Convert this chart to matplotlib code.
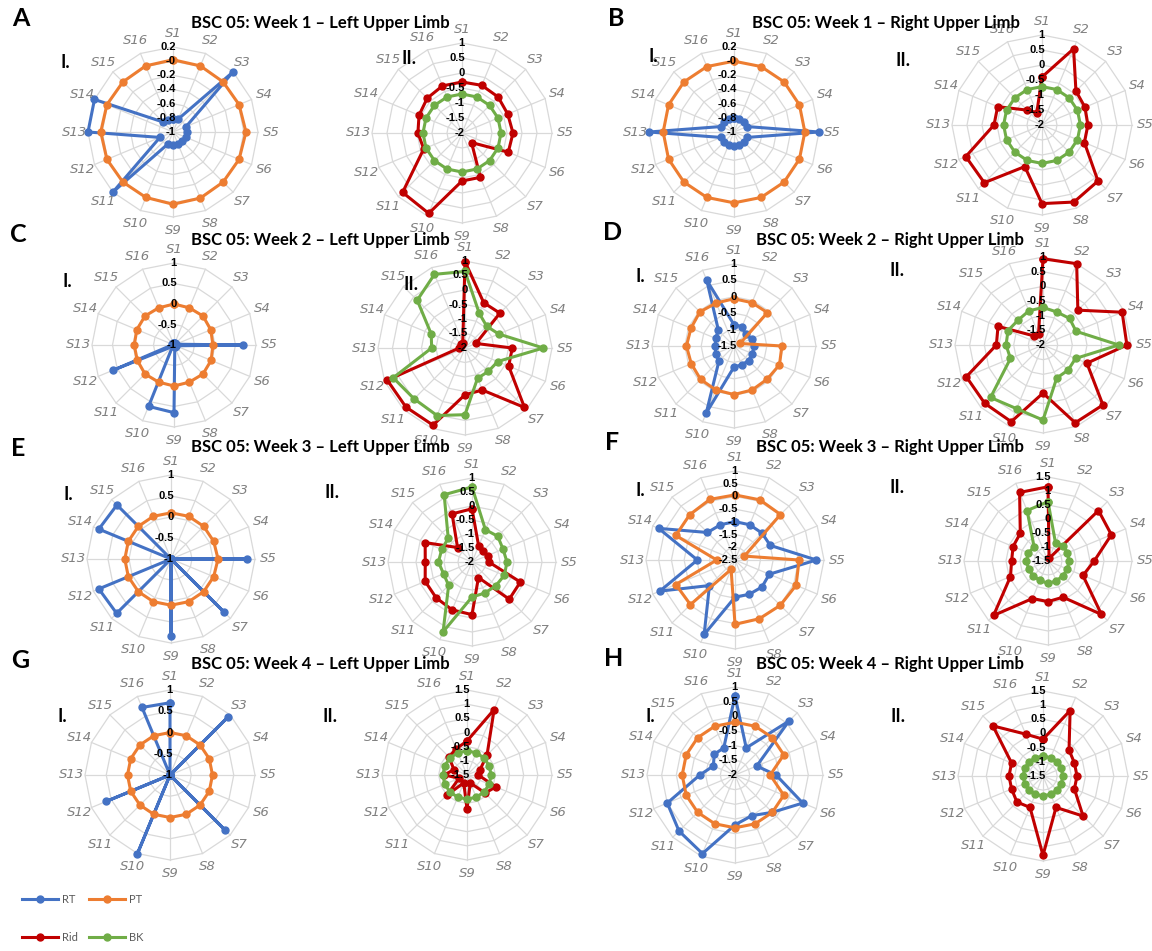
import numpy as np
import matplotlib.pyplot as plt

plt.rcParams['font.family'] = ['Lato', 'DejaVu Sans']

W, H = 1152, 951
CATS = ['S%d' % i for i in range(1, 17)]

C_RT = '#4472C4'
C_PT = '#ED7D31'
C_RID = '#C00000'
C_BK = '#70AD47'

# Week 1 - left (A)
A_RT = [-0.82, -0.8, 0.2, -0.8, -0.8, -0.8, -0.82, -0.82, -0.82, -0.82, 0.2, -0.8, 0.2, 0.2, -0.8, -0.82]
A_PT = [0.02, 0.01, 0.0, 0.01, 0.03, 0.01, 0.0, 0.01, 0.02, 0.0, 0.0, 0.01, 0.02, 0.01, 0.0, 0.01]
A_RID = [-0.3, -0.28, -0.3, -0.35, -0.3, -0.33, -1.55, -0.4, -0.4, 0.9, 0.8, -0.62, -0.53, -0.45, -0.36, -0.3]
A_BK = [-0.7, -0.7, -0.7, -0.7, -0.7, -0.7, -0.7, -0.7, -0.7, -0.7, -0.7, -0.7, -0.7, -0.7, -0.7, -0.7]

# Week 1 - right (B)
B_RT = [-0.8, -0.8, -0.8, -0.8, 0.2, -0.8, -0.8, -0.8, -0.8, -0.8, -0.8, -0.8, 0.2, -0.8, -0.8, -0.8]
B_PT = [0.0, 0.0, 0.0, 0.0, 0.0, 0.0, 0.0, 0.0, 0.0, 0.0, 0.0, 0.0, 0.0, 0.0, 0.0, 0.0]
B_RID = [-0.4, 0.75, -0.4, -0.45, -0.47, -0.47, 0.64, 0.78, 0.62, -0.5, 0.72, 0.75, -0.4, -0.4, -1.3, -1.55]
B_BK = [-0.72, -0.72, -0.72, -0.72, -0.72, -0.72, -0.72, -0.72, -0.72, -0.72, -0.72, -0.72, -0.72, -0.72, -0.72, -0.72]

# Week 2 - left (C)
C_RTv = [-0.95, -0.95, -0.95, -0.95, 0.68, -0.95, -0.95, -0.95, 0.65, 0.62, -0.95, 0.6, -0.95, -0.95, -0.95, -0.95]
C_PTv = [0.0, -0.02, 0.0, -0.03, -0.05, -0.02, 0.0, -0.02, 0.0, -0.02, 0.0, -0.03, -0.03, -0.02, 0.0, -0.02]
C_RIDv = [0.98, -0.31, -0.3, -1.59, -0.37, -0.37, 0.9, -0.43, -0.39, 0.88, 0.88, 0.9, -1.8, -1.85, -1.8, -1.8]
C_BKv = [0.64, -0.71, -0.94, -0.74, 0.7, -0.78, -0.86, -0.87, 0.3, 0.52, 0.48, 0.68, -0.85, -0.74, 0.33, 0.75]

# Week 2 - right (D)
D_RT = [-0.85, -0.86, -1.0, -0.92, -0.88, -0.9, -0.87, -0.88, -0.86, 0.71, -0.85, -0.89, -0.93, -0.89, -0.83, 0.67]
D_PT = [-0.06, -0.07, -0.06, -1.3, -0.04, 0.0, -0.07, -0.05, -0.02, -0.05, -0.06, -0.09, -0.05, -0.08, -0.03, -0.08]
D_RID = [0.94, 1.0, -0.32, 0.92, 0.86, -0.38, 0.89, 0.87, -0.36, 0.83, 0.81, 0.83, -0.41, -0.34, -1.56, -1.6]
D_BK = [-0.72, -0.78, -0.72, -0.78, 0.58, -0.8, -0.79, -0.78, 0.56, 0.35, 0.53, -0.8, -0.74, -0.71, -0.8, -0.74]

# Week 3 - left (E)
E_RT = [-1.0, -1.0, -1.0, -1.0, 0.81, -1.0, 0.79, -1.0, 0.83, -1.0, 0.83, 0.86, -1.0, 0.86, 0.82, -1.0]
E_PT = [0.1, 0.1, 0.1, 0.1, 0.12, 0.1, 0.1, 0.1, 0.1, 0.1, 0.1, 0.1, 0.1, 0.1, 0.1, 0.1]
E_RID = [-0.1, -1.38, -1.45, -1.4, -1.4, -0.13, -0.12, -1.4, -0.12, -0.15, -0.19, -0.19, -0.33, -0.19, -1.27, -0.14]
E_BK = [0.68, -0.75, -0.7, -0.8, -0.75, -0.75, -0.8, -0.8, -0.75, 0.7, -0.82, -0.9, -0.8, -0.83, -0.8, 0.6]

# Week 3 - right (F)
F_RT = [-0.99, -1.0, -1.0, -1.0, 0.7, -1.04, -1.0, -1.04, -1.04, 0.67, -1.08, 0.7, -1.02, 0.75, -0.97, -1.0]
F_PT = [0.06, 0.06, 0.03, -2.1, 0.02, 0.1, 0.02, 0.0, 0.03, -2.1, -0.02, 0.02, -1.78, 0.02, 0.02, 0.08]
F_RID = [1.15, -1.4, 1.05, 0.95, 0.15, -0.15, 1.2, -0.1, -0.05, -0.05, 1.25, -0.05, -0.2, -0.15, -0.1, 1.15]
F_BK = [0.62, -0.8, -0.72, -0.75, -0.75, -0.75, -0.75, -0.73, -0.7, -0.75, -0.75, -0.75, -0.73, -0.74, -0.8, 0.45]

# Week 4 - left (G)
G_RT = [0.7, -1.0, 0.93, -1.0, -1.0, -1.0, 0.82, -1.0, -1.0, 1.0, -1.0, 0.62, -1.0, -1.0, -1.0, 0.72]
G_PT = [0.0, 0.0, 0.0, 0.0, 0.0, 0.0, 0.0, 0.0, 0.0, 0.0, 0.0, 0.0, 0.0, 0.0, 0.0, 0.0]
G_RID = [-0.3, 1.0, -0.5, -1.0, -1.1, -0.4, -0.6, -1.2, -0.3, -1.2, -0.5, -1.2, -0.7, -1.0, -0.6, -0.5]
G_BK = [-0.65, -0.65, -0.65, -0.65, -0.65, -0.65, -0.65, -0.65, -0.65, -0.65, -0.65, -0.65, -0.65, -0.65, -0.65, -0.65]

# Week 4 - right (H)
H_RT = [0.7, -1.0, 0.6, -1.2, -0.6, 0.5, -0.2, -0.5, -0.3, 0.9, 0.7, 0.5, -0.8, -1.2, -1.0, -1.0]
H_PT = [-0.2, -0.2, -0.2, -0.2, -0.8, -0.2, -0.2, -0.2, -0.2, -0.2, -0.2, -0.2, -0.2, -0.2, -0.2, -0.2]
H_RID = [-0.2, 1.0, -0.2, -0.3, -0.3, -0.3, 0.5, -0.3, 1.3, -0.3, -0.2, -0.3, -0.3, -0.3, 1.0, 0.1]
H_BK = [-0.8, -0.8, -0.8, -0.8, -0.8, -0.8, -0.8, -0.8, -0.8, -0.8, -0.8, -0.8, -0.8, -0.8, -0.8, -0.8]

TITLES = ['BSC 05: Week 1 \u2013 Left Upper Limb', 'BSC 05: Week 1 \u2013 Right Upper Limb',
          'BSC 05: Week 2 \u2013 Left Upper Limb', 'BSC 05: Week 2 \u2013 Right Upper Limb',
          'BSC 05: Week 3 \u2013 Left Upper Limb', 'BSC 05: Week 3 \u2013 Right Upper Limb',
          'BSC 05: Week 4 \u2013 Left Upper Limb', 'BSC 05: Week 4 \u2013 Right Upper Limb']
LETTERS = ['A', 'B', 'C', 'D', 'E', 'F', 'G', 'H']

fig = plt.figure(figsize=(W / 100, H / 100), dpi=100)
fig.patch.set_facecolor('white')


def radar(cx, cy, R, lo, hi, step, series):
    ax = fig.add_axes([(cx - R) / W, (H - cy - R) / H, 2 * R / W, 2 * R / H], projection='polar')
    ax.set_theta_zero_location('N')
    ax.set_theta_direction(-1)
    ax.set_ylim(lo, hi)
    ax.axis('off')
    th = np.linspace(0, 2 * np.pi, 16, endpoint=False)
    thc = np.append(th, th[0])
    levels = np.arange(lo, hi + step / 2, step)
    for lv in levels[1:]:
        ax.plot(thc, np.full(17, lv), color='#d9d9d9', lw=0.9, zorder=1, clip_on=False)
    for t in th:
        ax.plot([t, t], [lo, hi], color='#d9d9d9', lw=0.9, zorder=1, clip_on=False)
    lines = []
    for vals, col in series:
        v = np.append(vals, vals[0])
        ln, = ax.plot(thc, v, color=col, lw=2.2, marker='o', ms=5, zorder=3, clip_on=False)
        lines.append(ln)
    for lv in levels:
        ax.annotate('%g' % round(lv, 2), (0, lv), xytext=(2, 0), textcoords='offset points',
                    ha='right', va='center', fontsize=8, fontweight='bold', zorder=5,
                    family=['Liberation Sans Narrow', 'Liberation Sans', 'DejaVu Sans'])
    rl = hi + (hi - lo) * 13.5 / R
    for t, c in zip(th, CATS):
        ax.text(t, rl, c, ha='center', va='center', fontsize=9.5, style='italic', color='#808080',
                family=['Liberation Sans Narrow', 'DejaVu Sans'])
    return lines


# (cx, cy, R, lo, hi, step) for chart I and II of every panel
LAYOUT = [
    ((173, 132, 85, -1, 0.2, 0.2), (462, 133, 90, -2, 1, 0.5)),
    ((734, 132, 85, -1, 0.2, 0.2), (1042, 125, 90, -2, 1, 0.5)),
    ((174, 345, 82, -1, 1, 0.5), (465, 348, 87, -2, 1, 0.5)),
    ((734, 346, 82, -1.5, 1, 0.5), (1043, 345, 88, -2, 1, 0.5)),
    ((171, 559, 84, -1, 1, 0.5), (472, 562, 84, -2, 1, 0.5)),
    ((735, 560, 89, -2.5, 1, 0.5), (1048, 561, 84, -1.5, 1.5, 0.5)),
    ((170, 775, 85, -1, 1, 0.5), (467, 775, 85, -1.5, 1.5, 0.5)),
    ((735, 775, 88, -2, 1, 0.5), (1043, 776, 85, -1.5, 1.5, 0.5)),
]
DATA = [
    (A_RT, A_PT, A_RID, A_BK), (B_RT, B_PT, B_RID, B_BK),
    (C_RTv, C_PTv, C_RIDv, C_BKv), (D_RT, D_PT, D_RID, D_BK),
    (E_RT, E_PT, E_RID, E_BK), (F_RT, F_PT, F_RID, F_BK),
    (G_RT, G_PT, G_RID, G_BK), (H_RT, H_PT, H_RID, H_BK),
]
# title centre, letter position, "I." and "II." positions (pixels)
TITLE_XY = [(320, 23), (886, 23), (320, 240), (890, 240), (320, 447), (890, 447), (320, 664), (890, 664)]
LETTER_XY = [(21, 19), (616, 18), (18, 235), (613, 232), (18, 449), (612, 443), (20, 660), (614, 658)]
I_XY = [(65, 62), (653, 56), (67, 282), (640, 277), (68, 495), (640, 490), (62, 716), (650, 716)]
II_XY = [(409, 58), (903, 60), (411, 285), (897, 270), (332, 493), (897, 487), (330, 716), (898, 716)]

handles = None
for k in range(8):
    c1, c2 = LAYOUT[k]
    rt, pt, rid, bk = DATA[k]
    l1 = radar(*c1, [(rt, C_RT), (pt, C_PT)])
    l2 = radar(*c2, [(rid, C_RID), (bk, C_BK)])
    if handles is None:
        handles = l1 + l2
    tx, ty = TITLE_XY[k]
    fig.text(tx / W, 1 - ty / H, TITLES[k], ha='center', va='center', fontsize=12, fontweight='bold')
    lx, ly = LETTER_XY[k]
    fig.text(lx / W, 1 - ly / H, LETTERS[k], ha='center', va='center', fontsize=18, fontweight='bold')
    ix, iy = I_XY[k]
    fig.text(ix / W, 1 - iy / H, 'I.', ha='center', va='center', fontsize=13, fontweight='bold')
    ix, iy = II_XY[k]
    fig.text(ix / W, 1 - iy / H, 'II.', ha='center', va='center', fontsize=13, fontweight='bold')

# legend filled column by column: RT/Rid in the first column, PT/BK in the second
leg = fig.legend([handles[0], handles[2], handles[1], handles[3]], ['RT', 'Rid', 'PT', 'BK'],
                 ncol=2, loc='upper left', bbox_to_anchor=(12 / W, 1 - 884 / H), frameon=False,
                 fontsize=8, labelspacing=2.4, handlelength=3.2, columnspacing=1.0, handletextpad=0.4)
for t in leg.get_texts():
    t.set_color('#595959')

fig.savefig('out.png', dpi=100)
